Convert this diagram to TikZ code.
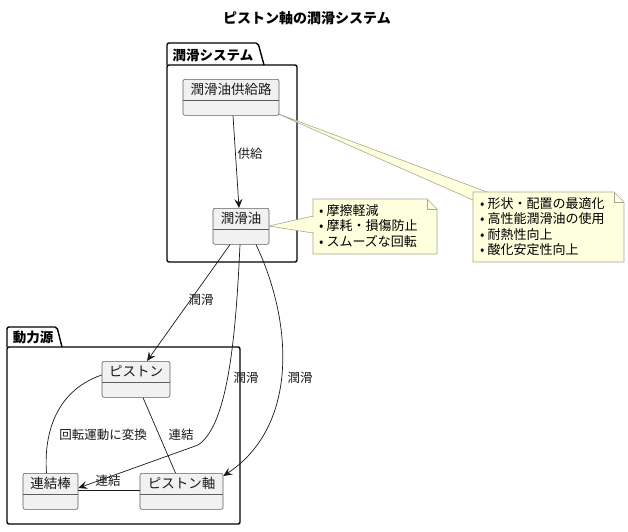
\documentclass[tikz,border=0pt]{standalone}
\usepackage{fontspec}
\setmainfont{Noto Sans CJK JP}
\usetikzlibrary{arrows.meta,calc}
\definecolor{clsfill}{HTML}{F1F1F1}
\definecolor{ink}{HTML}{181818}
\definecolor{notefill}{HTML}{FEFFDD}
\definecolor{noteline}{HTML}{A8A890}
\tikzset{
  clsbox/.style={draw=ink!70, fill=clsfill, line width=0.6pt, rounded corners=2pt, inner sep=0pt},
  clstext/.style={font=\fontsize{13.5}{15}\selectfont, text=ink, inner sep=0pt},
  clsline/.style={draw=ink!70, line width=0.6pt},
  edge/.style={draw=ink, line width=0.7pt},
  arr/.style={edge, -{Stealth[length=9pt,width=8pt,inset=3.5pt]}},
  elabel/.style={font=\fontsize{12.5}{14}\selectfont, text=ink, inner sep=1pt},
  pkg/.style={draw=black, line width=1.4pt, rounded corners=2pt},
  pkgtitle/.style={font=\bfseries\fontsize{13.5}{15}\selectfont, inner sep=0pt},
  notebox/.style={draw=noteline, fill=notefill, line width=0.6pt},
  notetext/.style={font=\fontsize{13}{15.5}\selectfont, align=left, inner sep=0pt, anchor=north west},
}
\newcommand\umlcls[5]{%
  \node[clsbox, minimum width=#4pt, minimum height=36pt, anchor=north] (#1) at (#2,#3) {};
  \node[clstext] (#1-t) at (#2,{#3+10.5}) {#5};
  \draw[clsline] ([yshift=-21pt]#1.north west) -- ([yshift=-21pt]#1.north east);
}
\begin{document}
\begin{tikzpicture}[x=1pt,y=-1pt]
\useasboundingbox (0,0) rectangle (628,531);
% title
\node[font=\bfseries\fontsize{14}{16}\selectfont] (title) at (307,18) {ピストン軸の潤滑システム};

% package 潤滑システム
\draw[pkg] (167,65) -- (167,43) -- (258,43) [sharp corners] -- (264,65);
\draw[pkg] (167,65) rectangle (297,262);
\node[pkgtitle] (pkgA) at (213,55) {潤滑システム};

% package 動力源
\draw[pkg] (7,347) -- (7,327) -- (57,327) [sharp corners] -- (62,347);
\draw[pkg] (7,347) rectangle (240,524);
\node[pkgtitle] (pkgB) at (33,337) {動力源};

% notes
\fill[notefill, draw=noteline, line width=0.6pt] (276,113) -- (487,192) -- (473,200) -- cycle;
\draw[notebox] (473,192) -- (614,192) -- (624,202) -- (624,262) -- (473,262) -- cycle;
\draw[noteline, line width=0.6pt] (614,192) -- (614,202) -- (624,202);
\node[notetext] (note2) at (480,197) {• 形状・配置の最適化\\• 高性能潤滑油の使用\\• 耐熱性向上\\• 酸化安定性向上};

\fill[notefill, draw=noteline, line width=0.6pt] (269,226) -- (313,216) -- (313,233) -- cycle;
\draw[notebox] (313,199) -- (427,199) -- (437,209) -- (437,254) -- (313,254) -- cycle;
\draw[noteline, line width=0.6pt] (427,199) -- (427,209) -- (437,209);
\fill[notefill] (312,217) rectangle (314.5,232);
\node[notetext] (note1) at (319,204) {• 摩擦軽減\\• 摩耗・損傷防止\\• スムーズな回転};

% classes
\umlcls{sup}{231}{79}{96}{潤滑油供給路}
\umlcls{oil}{241}{208}{56}{潤滑油}
\umlcls{piston}{136}{361}{68}{ピストン}
\umlcls{rod}{50.5}{473}{55}{連結棒}
\umlcls{pin}{181.5}{473}{83}{ピストン軸}

% edges
\draw[arr] ([xshift=2pt]sup.south) -- ([xshift=-2pt]oil.north);
\node[elabel] (l1) at (250,154) {供給};

\draw[arr] ([xshift=-11pt]oil.south) -- ([xshift=11pt]piston.north);
\node[elabel] (l2) at (201,300) {潤滑};

\draw[arr] ([xshift=-1pt]oil.south) .. controls (236,330) and (229,425) .. (198,445) -- ([yshift=-15pt]rod.north east);
\node[elabel] (l3) at (246,378) {潤滑};

\draw[arr] ([xshift=15pt]oil.south) .. controls (292,320) and (300,425) .. ([yshift=-3pt]pin.north east);
\node[elabel] (l4) at (300,378) {潤滑};

\draw[edge] ([yshift=-14pt]piston.north west) .. controls (52,392) and (44,440) .. ([xshift=-4pt]rod.north);
\node[elabel] (l5) at (103,435) {回転運動に変換};

\draw[edge] ([xshift=7pt]piston.south) -- ([xshift=-6pt]pin.north);
\node[elabel] (l6) at (181,435) {連結};

\draw[edge] ([yshift=-17pt]rod.north east) -- ([yshift=-17pt]pin.north west);
\node[elabel] (l7) at (108,481) {連結};
\end{tikzpicture}
\end{document}
